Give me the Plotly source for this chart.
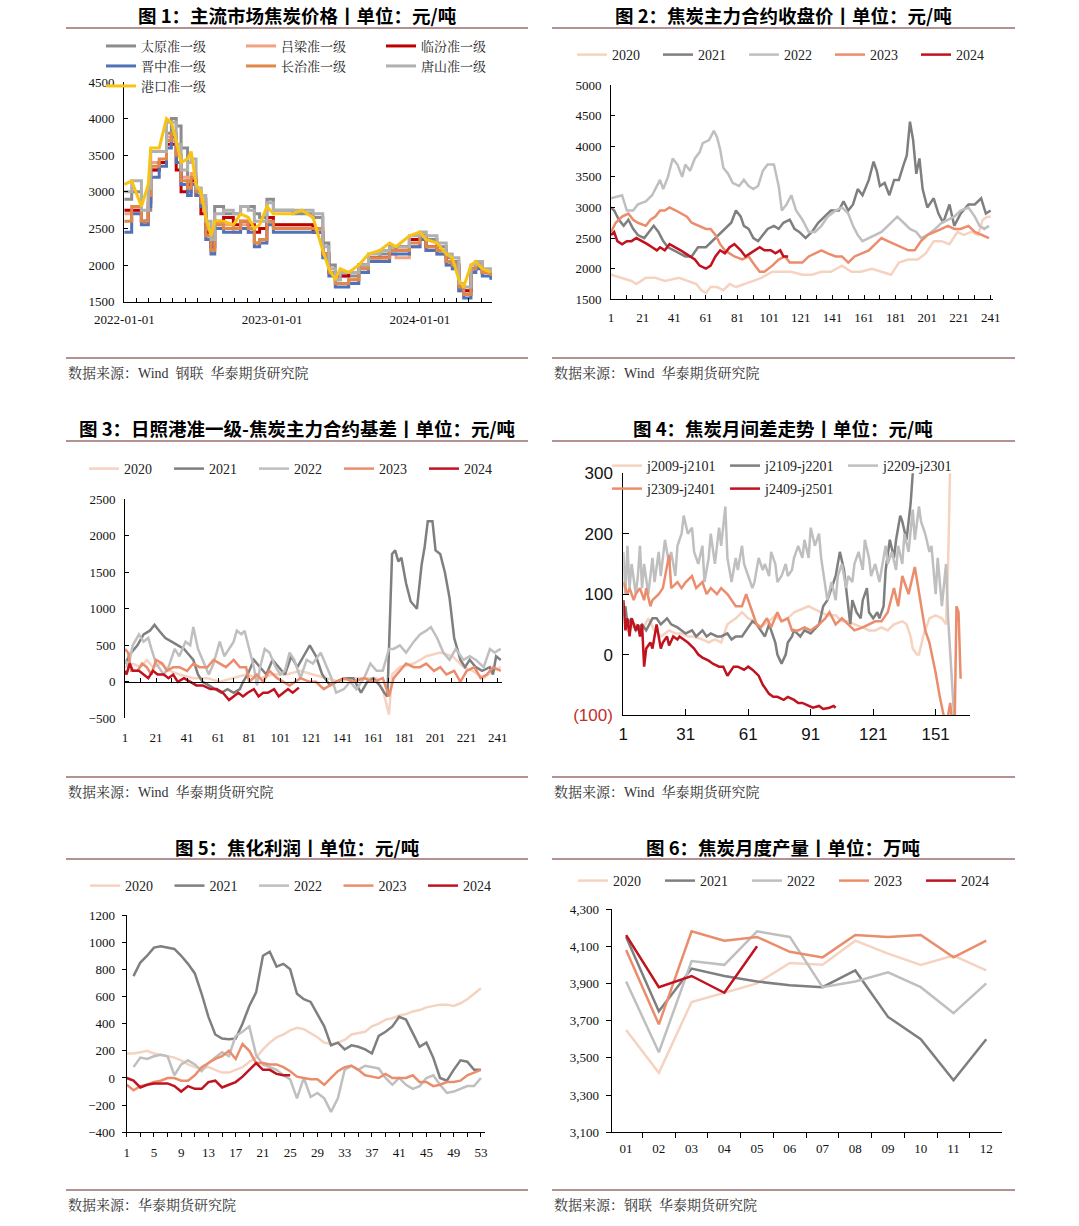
import plotly.graph_objects as go

W, H = 1079, 1226
OFF = 0  # body margin removed via post_script

# ---------------- Panel 1 data ----------------
p1_dates = ["2022-01-01","2022-01-19","2022-02-12","2022-03-01","2022-03-07","2022-03-28","2022-04-15","2022-04-27",
            "2022-05-09","2022-05-21","2022-06-06","2022-06-15","2022-06-27","2022-07-09","2022-07-21","2022-08-03",
            "2022-08-12","2022-09-03","2022-09-27","2022-10-15","2022-11-03","2022-11-18","2022-12-01","2022-12-19",
            "2023-01-04","2023-02-21","2023-03-15","2023-04-12","2023-05-06","2023-05-21","2023-06-06","2023-06-18",
            "2023-07-09","2023-08-03","2023-08-27","2023-09-24","2023-10-18","2023-11-03","2023-12-06","2024-01-01",
            "2024-01-16","2024-02-12","2024-03-06","2024-03-21","2024-04-06","2024-04-18","2024-05-06","2024-05-18",
            "2024-06-03","2024-06-24"]
p1_taiyuan = [2900,3000,2600,2750,3300,3400,3800,4000,3900,3600,3000,3200,3050,2900,2400,2200,2800,2700,2700,2800,
              2800,2700,2650,2900,2750,2700,2700,2650,2300,2000,1800,1850,1850,1950,2100,2150,2250,2200,2350,2450,
              2350,2250,2100,2050,1700,1650,1950,2050,1900,1850]
p1_lvliang = [2700,2750,2600,2900,3400,3400,3750,3700,3500,3200,3100,3250,3000,2900,2450,2250,2550,2550,2450,2550,
              2450,2300,2350,2600,2550,2550,2550,2500,2150,1900,1750,1750,1800,1900,2050,2050,2150,2100,2250,2350,
              2200,2150,2000,1950,1650,1600,1950,2000,1900,1850]
p1_linfen = [2750,2750,2600,2850,3300,3400,3650,3650,3300,3000,3100,3150,2950,2700,2450,2250,2600,2650,2550,2600,
             2550,2450,2500,2650,2550,2550,2550,2450,2150,1900,1850,1850,1900,2000,2100,2100,2250,2250,2350,2400,
             2250,2200,2050,2000,1700,1650,1950,2000,1900,1850]
p1_jinzhong = [2450,2700,2550,2800,3200,3350,3600,3750,3400,3100,2950,3100,2950,2800,2350,2150,2500,2450,2450,2500,
               2450,2250,2300,2550,2450,2450,2450,2450,2100,1850,1700,1700,1750,1900,2050,2050,2150,2150,2250,2350,
               2200,2150,2000,1950,1650,1550,1900,1950,1850,1800]
p1_changzhi = [2600,2800,2600,2950,3350,3450,3700,3800,3500,3150,3050,3200,3000,2850,2400,2200,2550,2500,2500,2600,
               2500,2300,2350,2600,2500,2500,2500,2500,2150,1900,1750,1750,1800,1950,2100,2100,2200,2200,2300,2400,
               2250,2200,2050,2000,1700,1600,1950,2000,1900,1850]
p1_tangshan = [3000,3150,2750,3050,3550,3550,3950,3950,3650,3300,3400,3450,3050,2950,2600,2350,2700,2750,2700,2800,
               2750,2600,2600,2850,2750,2750,2750,2700,2250,1950,1800,1900,1900,2000,2150,2200,2250,2250,2400,2450,
               2400,2300,2150,2100,1750,1700,2000,2050,1950,1900]
p1_gangkou = [3100,3150,2800,3100,3600,3600,4000,3950,3700,3400,3450,3550,3100,3000,2650,2400,2600,2600,2550,2700,
              2650,2500,2550,2800,2700,2700,2750,2650,2200,1950,1800,1950,1900,2000,2150,2200,2300,2250,2400,2450,
              2350,2300,2150,2100,1800,1700,2000,2050,1950,1900]
p1_names = ["太原准一级","吕梁准一级","临汾准一级","晋中准一级","长治准一级","唐山准一级","港口准一级"]
p1_ticks = ["2022-01-01","2023-01-01","2024-01-01"]

# ---------------- Panel 2 data ----------------
p2_2020_x = [1,8,14,17,23,29,35,44,50,55,58,61,64,68,72,76,80,86,91,96,103,109,115,122,128,134,140,147,153,159,
             166,172,178,183,189,195,200,205,210,215,220,224,229,233,236,239,241]
p2_2020_y = [1900,1850,1800,1750,1850,1850,1800,1850,1800,1750,1650,1600,1700,1700,1650,1750,1700,1750,1800,1850,
             1950,1950,1950,1900,1900,1950,1950,2050,1950,1950,2000,1950,1900,2100,2150,2150,2250,2450,2450,2400,
             2600,2550,2600,2550,2800,2850,2850]
p2_2021_x = [1,3,6,9,12,15,18,22,25,28,31,34,37,41,44,48,52,56,61,65,69,73,77,80,83,85,88,91,94,97,100,104,107,110,
             114,117,120,124,128,132,136,140,145,148,151,154,157,160,164,167,169,171,174,177,180,183,186,188,190,192,
             194,196,198,201,205,208,211,215,218,222,227,231,235,238,241]
p2_2021_y = [3000,2950,2800,2700,2800,2650,2550,2500,2600,2700,2600,2450,2350,2300,2250,2200,2200,2350,2350,2450,
             2550,2650,2750,2950,2850,2700,2650,2500,2450,2550,2650,2700,2650,2750,2800,2650,2600,2500,2600,2750,
             2850,2950,2950,3100,2950,3050,3300,3200,3450,3750,3600,3350,3400,3200,3450,3450,3700,3850,4400,4100,
             3550,3800,3300,3000,3150,2900,2750,3050,2700,2900,3050,3050,3150,2900,2950]
p2_2022_x = [1,8,11,15,18,23,27,30,32,34,37,40,43,46,48,51,54,57,59,63,66,68,70,72,75,78,82,85,88,91,94,97,100,104,
             107,109,112,115,118,122,126,130,134,138,143,147,151,154,157,160,164,168,172,176,180,182,186,190,194,197,
             201,206,210,214,218,222,227,231,234,237,240]
p2_2022_y = [3150,3200,2950,2950,3050,3100,3200,3350,3450,3300,3500,3800,3700,3500,3700,3600,3800,3900,4050,4100,
             4250,4150,3950,3650,3550,3400,3350,3450,3350,3300,3350,3600,3700,3700,3350,2950,3050,3200,2950,2800,
             2600,2600,2700,2850,2950,3000,2900,2700,2550,2450,2500,2550,2600,2700,2800,2850,2750,2650,2600,2500,
             2550,2650,2750,2800,2850,2950,3000,2850,2700,2650,2700]
p2_2023_x = [1,4,8,12,15,18,23,26,29,32,35,38,42,46,49,52,56,61,64,67,70,73,76,79,84,88,92,95,98,103,107,111,114,117,
             122,126,130,134,138,143,147,151,155,159,164,168,172,176,180,184,189,193,197,201,206,210,214,218,222,227,
             231,235,240]
p2_2023_y = [2600,2750,2850,2900,2800,2750,2700,2800,2850,2950,2950,3000,2950,2900,2850,2750,2700,2650,2650,2550,
             2400,2300,2250,2200,2150,2200,2050,1950,1950,2050,2150,2200,2100,2100,2100,2200,2250,2300,2250,2200,
             2200,2100,2200,2250,2300,2400,2500,2450,2400,2350,2300,2300,2450,2550,2600,2650,2700,2650,2650,2700,
             2600,2550,2500]
p2_2024_x = [1,3,5,8,11,14,17,21,24,27,30,32,35,38,42,45,48,51,54,57,61,64,67,70,73,76,79,83,86,89,92,95,98,102,105,
             108,110,113]
p2_2024_y = [2550,2600,2450,2400,2450,2450,2500,2450,2400,2350,2300,2350,2300,2400,2350,2300,2250,2200,2150,2050,
             2000,2050,2200,2300,2250,2350,2400,2300,2200,2250,2300,2350,2300,2300,2250,2300,2200,2200]

# ---------------- Panel 3 data ----------------
p3_2020_x = [1,6,11,15,19,24,30,36,45,54,62,71,79,88,96,105,114,122,131,139,148,157,163,167,171,173,178,187,195,204,
             212,219,225,232,238,243]
p3_2020_y = [200,250,200,300,200,250,150,100,50,50,0,50,100,50,100,100,150,100,50,0,50,50,50,-100,-450,100,200,250,
             350,400,350,200,150,50,150,200]
p3_2021_x = [1,5,9,13,17,20,23,27,31,35,39,43,45,48,51,55,59,63,67,71,75,77,80,84,88,92,96,100,104,108,112,116,120,
             124,128,133,137,142,148,153,157,161,165,168,170,173,175,177,179,182,185,189,192,194,196,199,201,204,207,
             210,213,217,220,223,227,231,236,238,240,243]
p3_2021_y = [250,400,500,650,700,780,700,600,550,500,450,350,300,100,0,-50,-100,-150,-100,-150,-100,0,100,300,200,100,
             300,200,100,350,200,350,500,350,100,-50,0,50,50,-150,0,50,-50,-150,-200,1750,1800,1650,1700,1350,1100,
             1000,1600,1850,2200,2200,1800,1750,1500,1150,600,300,200,300,200,150,200,100,350,300]
p3_2022_x = [1,3,6,10,13,16,18,21,26,29,33,36,40,43,45,48,51,55,58,62,65,68,71,73,76,78,81,84,86,88,91,94,98,101,104,
             107,110,114,118,122,127,131,134,137,142,146,150,155,159,163,167,171,174,178,182,187,191,195,198,202,206,
             210,214,219,223,227,232,236,239,243]
p3_2022_y = [300,200,500,650,550,600,450,250,100,200,450,350,550,500,750,450,300,100,250,550,350,450,550,700,650,700,
             450,200,-50,200,450,400,200,100,150,400,300,50,300,250,400,200,50,-150,-100,0,-100,50,250,150,150,450,
             450,500,400,550,650,700,750,600,400,300,450,300,350,300,200,450,400,450]
p3_2023_x = [1,3,5,9,12,15,18,21,25,28,32,36,41,45,49,54,58,62,66,71,75,79,81,86,90,94,99,103,107,114,120,124,129,133,
             137,142,148,155,161,167,171,174,178,182,187,191,195,200,204,208,213,217,221,226,230,234,238,243]
p3_2023_y = [450,400,150,150,250,200,100,300,250,150,200,200,150,250,200,200,300,250,200,300,200,200,0,100,0,150,50,0,
             -50,50,0,0,-100,-50,0,50,0,50,0,50,-200,50,150,250,200,200,250,150,200,100,150,0,150,200,50,100,200,150]
p3_2024_x = [1,2,4,6,10,13,16,19,22,26,29,32,35,39,43,47,51,56,60,64,68,71,74,77,80,84,87,90,93,97,100,103,106,109,113]
p3_2024_y = [150,100,250,150,150,100,50,150,100,100,50,100,0,50,0,-50,-50,-100,-100,-150,-250,-200,-150,-200,-150,
             -100,-200,-150,-150,-100,-200,-150,-100,-150,-80]

# ---------------- Panel 4 data ----------------
p4_a_x = [1,3,7,10,13,16,19,23,26,29,32,35,39,42,45,48,51,55,58,61,64,67,71,74,77,80,83,87,90,93,96,99,103,106,109,
          112,116,119,122,125,128,131,135,137,139,140,142,143,145,148,151,154,156,157,158]
p4_a_y = [90,40,50,40,60,40,30,40,35,35,30,30,25,20,25,20,50,60,70,60,55,45,55,65,55,60,70,75,80,75,70,65,65,55,55,
          50,45,40,40,45,40,50,55,50,30,10,0,0,30,60,65,60,50,150,320]
p4_b_x = [2,3,5,7,10,12,15,17,19,22,24,27,29,31,34,36,39,41,43,46,48,51,53,55,58,60,63,65,67,69,71,72,74,75,77,79,80,
          82,83,86,88,91,95,97,99,103,105,107,108,110,111,113,115,116,118,119,121,123,124,126,127,129,131,132,134,135,
          137,139,140,142]
p4_b_y = [80,50,60,40,50,40,60,60,50,60,50,45,40,35,40,30,40,30,35,30,30,35,25,30,30,40,55,50,40,30,50,40,20,0,-15,0,
          20,30,40,30,40,35,50,80,90,130,170,140,110,50,90,70,60,90,110,70,60,70,60,80,140,190,160,190,230,220,190,250,
          300,340]
p4_c_x = [1,2,3,4,5,7,8,9,10,11,13,15,16,18,19,21,23,24,26,27,29,30,32,34,35,37,39,40,42,43,45,47,48,50,51,53,55,56,
          58,59,61,63,64,66,68,69,71,72,74,75,77,79,80,82,83,85,87,88,90,91,93,95,96,98,99,101,103,104,106,108,109,111,
          112,114,116,117,119,120,122,124,125,127,128,130,132,133,135,136,138,140,141,143,144,146,148,149,151,152,154,
          156,157,159,160]
p4_c_y = [170,100,180,110,150,100,130,180,110,150,100,160,120,170,130,190,150,170,130,180,200,230,200,210,170,150,180,
          120,160,200,150,210,180,245,160,120,160,140,180,150,130,110,120,160,140,150,130,170,150,120,130,150,130,140,
          160,180,160,190,160,210,180,200,160,110,90,120,90,130,150,110,130,120,150,170,140,190,160,130,150,120,140,180,
          150,170,140,180,150,200,170,240,190,245,220,200,170,180,100,160,80,150,60,-50,-110]
p4_d_x = [1,3,4,6,7,9,11,12,14,15,18,20,23,24,27,29,31,34,36,39,41,43,46,48,51,53,55,58,60,63,65,67,70,72,75,77,80,82,
          85,88,91,95,98,100,103,106,109,112,116,119,122,125,128,131,133,135,138,141,144,146,148,151,153,156,158,160,
          161,162,163]
p4_d_y = [120,100,110,90,100,110,90,110,80,90,100,110,165,110,120,110,120,130,110,120,100,110,100,110,100,90,80,80,100,
          70,50,45,60,45,70,55,60,40,40,45,40,50,60,70,50,60,50,40,45,50,55,55,70,110,80,130,100,145,80,40,20,-30,-70,
          -120,-80,-150,80,70,-40]
p4_e_x = [1,2,3,4,5,7,8,9,10,11,12,14,15,17,19,20,22,23,25,27,28,30,32,35,37,39,42,44,47,49,51,54,56,59,61,63,66,68,
          71,73,75,78,80,83,85,87,90,92,95,97,100,102,103]
p4_e_y = [90,40,60,30,60,40,50,30,50,-20,10,20,10,50,10,20,30,15,30,25,30,25,20,10,0,-5,-10,-15,-20,-20,-35,-20,-20,
          -25,-20,-25,-35,-50,-65,-70,-70,-75,-70,-75,-80,-80,-85,-88,-85,-90,-88,-85,-88]
p4_names = ["j2009-j2101","j2109-j2201","j2209-j2301","j2309-j2401","j2409-j2501"]
p4_tickvals = [300, 200, 100, 0, -100]
p4_ticktext = ["300", "200", "100", "0", "<span style='color:#C0302A'>(100)</span>"]

# ---------------- Panel 5 data ----------------
p5_weeks = list(range(1, 54))
p5_2020 = [180,180,190,200,180,170,165,150,130,100,80,70,80,60,40,40,60,80,120,150,210,260,300,320,350,370,360,330,
           300,260,250,260,280,320,330,340,380,400,430,440,460,470,490,500,520,530,540,540,530,550,580,620,660]
p5_2021 = [None,750,850,900,960,970,960,950,900,840,770,620,450,320,290,285,290,400,530,630,900,930,820,840,800,620,
           580,560,470,380,240,260,210,240,230,210,180,310,340,380,450,430,330,230,260,150,0,-20,60,130,120,60,60]
p5_2022 = [None,80,150,140,160,170,160,20,100,130,100,50,110,150,190,160,310,340,380,170,100,80,60,20,-10,-150,0,-140,
           -110,-150,-250,-150,60,90,60,90,80,70,0,-50,0,-50,-80,-60,0,20,-50,-110,-100,-80,-60,-60,0]
p5_2023 = [-50,-90,-60,-50,-30,-20,0,0,-20,-20,20,80,110,140,160,200,140,250,200,110,110,100,100,80,50,10,0,-10,-10,
           -50,0,50,80,90,60,20,10,0,30,0,0,0,20,-30,-30,-60,-50,-30,-30,-20,20,40,60]
p5_2024 = [0,-20,-70,-50,-40,-40,-40,-60,-100,-60,-80,-80,-30,-20,-70,-50,-30,10,60,110,60,60,30,20,20]

# ---------------- Panel 6 data ----------------
p6_months = ["01","02","03","04","05","06","07","08","09","10","11","12"]
p6_2020 = [3650,3420,3800,3850,3900,4010,4000,4130,4060,4000,4050,3970]
p6_2021 = [4150,3750,3980,3940,3910,3890,3880,3970,3720,3600,3380,3600]
p6_2022 = [3910,3530,4020,4000,4180,4150,3880,3910,3960,3880,3740,3900]
p6_2023 = [4080,3680,4180,4130,4150,4070,4040,4160,4150,4160,4040,4130]
p6_2024 = [4160,3880,3940,3850,4100]

years = ["2020", "2021", "2022", "2023", "2024"]
year_colors = ["#F6D3C0", "#7F7F7F", "#BFBFBF", "#EB8D6C", "#C0121F"]
p1_colors = ["#8C8C8C", "#F2A283", "#C00000", "#4F72B8", "#E0874A", "#B0B0B0", "#F7C315"]

titles = ["图 1：主流市场焦炭价格丨单位：元/吨", "图 2：焦炭主力合约收盘价丨单位：元/吨",
          "图 3：日照港准一级-焦炭主力合约基差丨单位：元/吨", "图 4：焦炭月间差走势丨单位：元/吨",
          "图 5：焦化利润丨单位：元/吨", "图 6：焦炭月度产量丨单位：万吨"]
sources = ["数据来源：Wind  钢联  华泰期货研究院", "数据来源：Wind  华泰期货研究院",
           "数据来源：Wind  华泰期货研究院", "数据来源：Wind  华泰期货研究院",
           "数据来源：华泰期货研究院", "数据来源：钢联  华泰期货研究院"]

SERIF = "Liberation Serif, 'Noto Serif CJK SC', 'Noto Sans CJK SC', serif"
SANS = "Liberation Sans, Arial, sans-serif"
HEI = "'Noto Sans CJK SC', sans-serif"


def PX(px):
    return (px - OFF) / W


def PY(py):
    return 1 - (py - OFF) / H


fig = go.Figure()

# Panel 1 traces
p1_series = [p1_taiyuan, p1_lvliang, p1_linfen, p1_jinzhong, p1_changzhi, p1_tangshan, p1_gangkou]
p1_leg = ["legend", "legend", "legend", "legend2", "legend2", "legend2", "legend3"]
for i, (nm, s) in enumerate(zip(p1_names, p1_series)):
    fig.add_trace(go.Scatter(x=p1_dates, y=s, name=nm, mode="lines", xaxis="x", yaxis="y",
                             line=dict(color=p1_colors[i], width=3, shape="linear" if i == 6 else "hv"),
                             legend=p1_leg[i]))

# Panel 2
p2 = [(p2_2020_x, p2_2020_y), (p2_2021_x, p2_2021_y), (p2_2022_x, p2_2022_y), (p2_2023_x, p2_2023_y), (p2_2024_x, p2_2024_y)]
for i, (xx, yy) in enumerate(p2):
    fig.add_trace(go.Scatter(x=xx, y=yy, name=years[i], mode="lines", xaxis="x2", yaxis="y2",
                             line=dict(color=year_colors[i], width=2.5), legend="legend4"))
# Panel 3
p3 = [(p3_2020_x, p3_2020_y), (p3_2021_x, p3_2021_y), (p3_2022_x, p3_2022_y), (p3_2023_x, p3_2023_y), (p3_2024_x, p3_2024_y)]
for i, (xx, yy) in enumerate(p3):
    fig.add_trace(go.Scatter(x=xx, y=yy, name=years[i], mode="lines", xaxis="x3", yaxis="y3",
                             line=dict(color=year_colors[i], width=2.5), legend="legend5"))
# Panel 4
p4 = [(p4_a_x, p4_a_y), (p4_b_x, p4_b_y), (p4_c_x, p4_c_y), (p4_d_x, p4_d_y), (p4_e_x, p4_e_y)]
p4_leg = ["legend6", "legend6", "legend6", "legend7", "legend7"]
for i, (xx, yy) in enumerate(p4):
    fig.add_trace(go.Scatter(x=xx, y=yy, name=p4_names[i], mode="lines", xaxis="x4", yaxis="y4",
                             line=dict(color=year_colors[i], width=2.5), legend=p4_leg[i]))
# Panel 5
for i, s in enumerate([p5_2020, p5_2021, p5_2022, p5_2023, p5_2024]):
    fig.add_trace(go.Scatter(x=p5_weeks[:len(s)], y=s, name=years[i], mode="lines", xaxis="x5", yaxis="y5",
                             line=dict(color=year_colors[i], width=2.5), legend="legend8"))
# Panel 6
for i, s in enumerate([p6_2020, p6_2021, p6_2022, p6_2023, p6_2024]):
    fig.add_trace(go.Scatter(x=p6_months[:len(s)], y=s, name=years[i], mode="lines", xaxis="x6", yaxis="y6",
                             line=dict(color=year_colors[i], width=2.5), legend="legend9"))

tickfont = dict(family=SERIF, size=13, color="#111")


def ax(**kw):
    d = dict(showline=True, linecolor="#000", linewidth=1, ticks="inside", ticklen=4, tickcolor="#000",
             showgrid=False, zeroline=False, tickfont=tickfont, fixedrange=True, automargin=False)
    d.update(kw)
    return d


layout = dict(
    width=W, height=H, margin=dict(l=0, r=0, t=0, b=0, autoexpand=False),
    paper_bgcolor="white", plot_bgcolor="white", showlegend=True, hovermode=False,
    xaxis=ax(domain=[PX(124), PX(492)], anchor="y", type="date", range=["2021-12-31", "2024-06-27"],
             tickvals=p1_ticks, ticktext=p1_ticks, ticklabelstandoff=6,
             minor=dict(ticks="inside", dtick="M1", tick0="2022-01-01", ticklen=4, tickcolor="#000")),
    yaxis=ax(domain=[PY(301.7), PY(82)], anchor="x", range=[1500, 4500], dtick=500, ticklabelstandoff=6),
    xaxis2=ax(domain=[PX(611), PX(993)], anchor="y2", range=[1, 242.5], tick0=1, dtick=20, ticklabelstandoff=6,
              minor=dict(ticks="inside", dtick=10, tick0=1, ticklen=4, tickcolor="#000")),
    yaxis2=ax(domain=[PY(299.3), PY(85)], anchor="x2", range=[1500, 5000], dtick=500, ticklabelstandoff=6),
    xaxis3=ax(domain=[PX(125), PX(501.7)], anchor="free", position=PY(681.7), range=[1, 243.6], tick0=1, dtick=20,
              ticklabelstandoff=44,
              minor=dict(ticks="inside", dtick=10, tick0=1, ticklen=4, tickcolor="#000")),
    yaxis3=ax(domain=[PY(718.3), PY(499.3)], anchor="x3", range=[-500, 2500], dtick=500, ticklabelstandoff=6),
    xaxis4=ax(domain=[PX(623.3), PX(970)], anchor="y4", range=[1, 167.5], tick0=1, dtick=30, ticklen=6,
              tickfont=dict(family=SANS, size=17, color="#111"), ticklabelstandoff=4),
    yaxis4=ax(domain=[PY(715), PY(473.3)], anchor="x4", range=[-100, 300], tickvals=p4_tickvals,
              ticktext=p4_ticktext, ticklen=6, tickfont=dict(family=SANS, size=17, color="#111"),
              ticklabelstandoff=6),
    xaxis5=ax(domain=[PX(126.7), PX(485)], anchor="y5", range=[1, 53.6], tick0=1, dtick=4, ticks="outside",
              ticklabelstandoff=4,
              minor=dict(ticks="outside", dtick=2, tick0=1, ticklen=4, tickcolor="#000")),
    yaxis5=ax(domain=[PY(1132.3), PY(915)], anchor="x5", range=[-400, 1200], dtick=200, ticks="outside",
              ticklabelstandoff=4),
    xaxis6=ax(domain=[PX(611.7), PX(1002.3)], anchor="y6", type="category", range=[-0.44, 11.49],
              tickson="boundaries", ticks="outside", ticklen=5, ticklabelstandoff=4),
    yaxis6=ax(domain=[PY(1132.3), PY(909)], anchor="x6", range=[3100, 4300], tick0=3100, dtick=200,
              tickformat=",d", ticks="outside", ticklen=5, ticklabelstandoff=4),
)


def leg(x_line, y_center, entry, size=13, fam=SERIF):
    return dict(orientation="h", x=PX(x_line - 5), y=PY(y_center), xanchor="left", yanchor="middle",
                bgcolor="rgba(0,0,0,0)", font=dict(family=fam, size=size, color="#222"),
                entrywidth=entry, entrywidthmode="pixels", itemwidth=30, traceorder="normal",
                tracegroupgap=0, itemclick=False, itemdoubleclick=False)


layout["legend"] = leg(106, 46, 95)
layout["legend2"] = leg(106, 66, 95)
layout["legend3"] = leg(106, 86, 95)
layout["legend4"] = leg(577, 55, 41, size=14)
layout["legend5"] = leg(89, 469, 40, size=14)
layout["legend6"] = leg(612, 466, 73, size=14)
layout["legend7"] = leg(612, 489, 73, size=14)
layout["legend8"] = leg(90, 886, 39.5, size=14)
layout["legend9"] = leg(578, 881, 42, size=14)

fig.update_layout(**layout)

# Titles, separators and sources
title_pos = [(297, 15), (783, 15), (297, 428), (783, 428), (297, 847), (783, 847)]
top_lines = [(66, 528, 28), (552, 1015, 28), (66, 528, 441), (552, 1015, 441), (66, 528, 859), (552, 1015, 859)]
bot_lines = [(66, 528, 358), (552, 1015, 358), (66, 528, 777), (552, 1015, 777), (66, 528, 1190), (552, 1015, 1190)]
src_pos = [(66, 373), (552, 373), (66, 792), (552, 792), (66, 1205), (552, 1205)]

anns = []
shapes = []
for i in range(6):
    tx, ty = title_pos[i]
    anns.append(dict(text="<b>" + titles[i] + "</b>", x=PX(tx), y=PY(ty), xref="paper", yref="paper",
                     xanchor="center", yanchor="middle", showarrow=False,
                     font=dict(family=HEI, size=18.5, color="#000")))
    sx, sy = src_pos[i]
    anns.append(dict(text=sources[i], x=PX(sx), y=PY(sy), xref="paper", yref="paper",
                     xanchor="left", yanchor="middle", showarrow=False,
                     font=dict(family=SERIF, size=14, color="#333")))
    for (x0, x1, yy) in (top_lines[i], bot_lines[i]):
        shapes.append(dict(type="line", xref="paper", yref="paper", x0=PX(x0), x1=PX(x1), y0=PY(yy), y1=PY(yy),
                           line=dict(color="#B39292", width=2)))

fig.update_layout(annotations=anns, shapes=shapes)
fig.write_html("out.html", config={"displayModeBar": False, "staticPlot": False},
               post_script="document.body.style.margin='0';document.body.style.padding='0';"
                           "document.body.style.overflow='hidden';")
